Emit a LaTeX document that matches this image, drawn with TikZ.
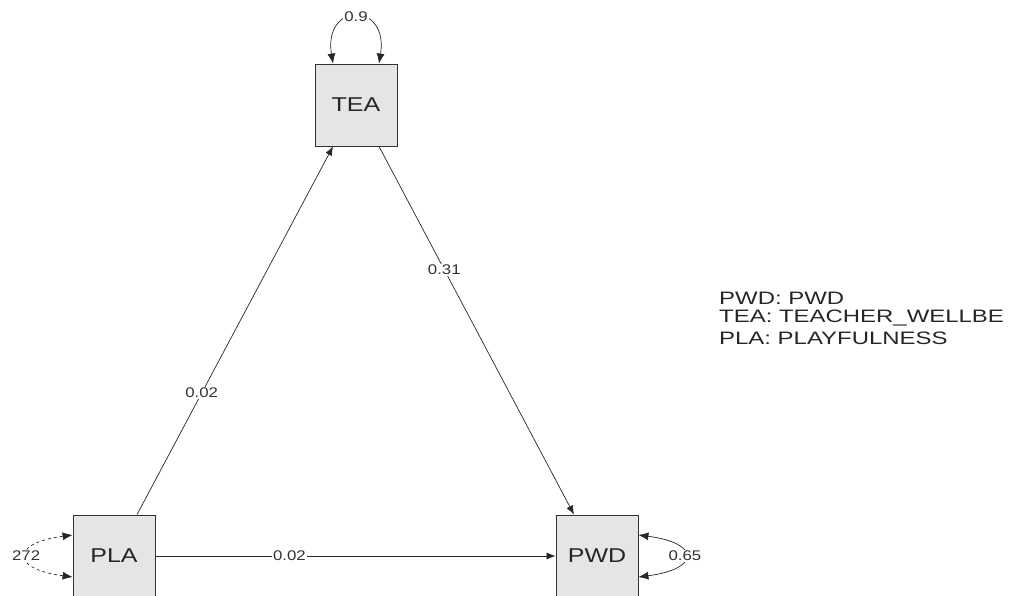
\documentclass[tikz,border=0pt]{standalone}
\usepackage{fontspec}
\usepackage{graphicx}
\setmainfont{Liberation Sans}
\usetikzlibrary{arrows.meta}
\newcommand{\wide}[2]{\scalebox{#1}[1]{#2}}
\begin{document}
\begin{tikzpicture}[x=1pt,y=-1pt,
  var/.style={draw=black!80,fill=black!10,line width=0.8pt,minimum width=82pt,minimum height=82pt,inner sep=0pt,font=\fontsize{20}{22}\selectfont,text=black!85},
  path/.style={draw=black!85,line width=0.7pt,-{Latex[length=9pt,width=7pt]}},
  loop/.style={draw=black!85,line width=0.7pt,{Latex[length=10pt,width=8pt]}-{Latex[length=10pt,width=8pt]}},
  lbl/.style={fill=white,inner sep=1pt,font=\fontsize{14}{15}\selectfont,text=black!80},
  leg/.style={anchor=west,inner sep=0pt,font=\fontsize{18}{20}\selectfont,text=black!85}]
\useasboundingbox (0,0) rectangle (1011,595);
\node[var] (TEA) at (356,105) {\wide{1.25}{TEA}};
\node[var] (PLA) at (114,556) {\wide{1.25}{PLA}};
\node[var] (PWD) at (597,556) {\wide{1.25}{PWD}};
\draw[path] ([xshift=23pt]PLA.north) -- node[lbl,pos=0.33] {\wide{1.2}{0.02}} ([xshift=-23pt]TEA.south);
\draw[path] ([xshift=23pt]TEA.south) -- node[lbl,pos=0.335] {\wide{1.2}{0.31}} ([xshift=-23pt]PWD.north);
\draw[path] (PLA.east) -- node[lbl,pos=0.335] {\wide{1.2}{0.02}} (PWD.west);
\draw[loop] ([xshift=-23pt]TEA.north) .. controls +(-10,-62) and +(10,-62) .. node[lbl] {\wide{1.2}{0.9}} ([xshift=23pt]TEA.north);
\draw[loop,dashed] ([yshift=-21pt]PLA.west) .. controls +(-62,-8) and +(-62,8) .. node[lbl] {\wide{1.2}{272}} ([yshift=21pt]PLA.west);
\draw[loop] ([yshift=-21pt]PWD.east) .. controls +(62,-8) and +(62,8) .. node[lbl] {\wide{1.2}{0.65}} ([yshift=21pt]PWD.east);
\node[leg] (l1) at (719,298) {\wide{1.33}{PWD: PWD}};
\node[leg] (l2) at (719,318) {\wide{1.33}{TEA: TEACHER\_WELLBE}};
\node[leg] (l3) at (719,338) {\wide{1.33}{PLA: PLAYFULNESS}};
\end{tikzpicture}
\end{document}
